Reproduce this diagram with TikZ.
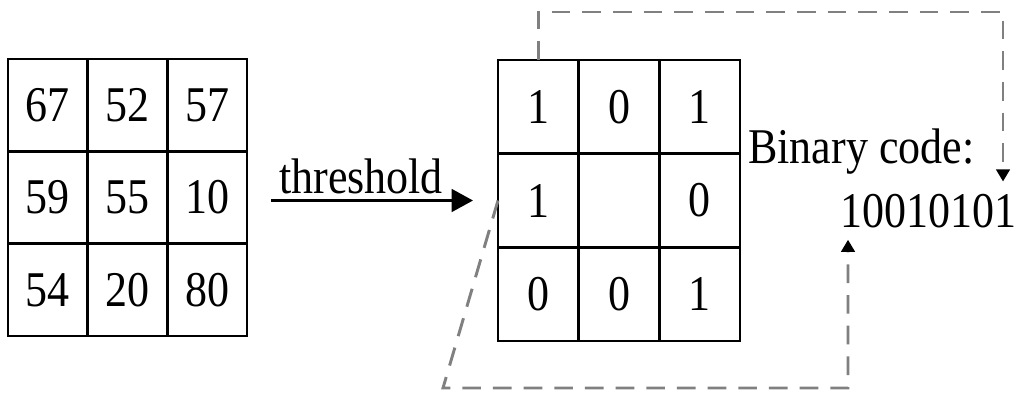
\documentclass[tikz,border=0pt]{standalone}
\usepackage{graphicx}
\usepackage{fontspec}
\setmainfont{Liberation Serif}
\usetikzlibrary{arrows.meta}
\newcommand{\sxt}[1]{\scalebox{0.88}[1]{#1}}
\begin{document}
\begin{tikzpicture}[x=0.75pt,y=-0.75pt,
  every node/.style={font=\fontsize{37.5}{45}\selectfont},
  lcell/.style={draw, line width=2pt, minimum width=59.75pt, minimum height=69.25pt, inner sep=0pt, outer sep=0pt},
  rcell/.style={draw, line width=2pt, minimum width=60.5pt, minimum height=70.25pt, inner sep=0pt, outer sep=0pt},
  dashline/.style={draw=black!50, line width=2.2pt, dash pattern=on 14pt off 9pt, -{Triangle[length=9pt,width=10pt,color=black]}},
  thrarrow/.style={line width=2pt, -{Triangle[length=16pt,width=17pt]}},
  txt/.style={inner sep=0pt}
]
\useasboundingbox (0,0) rectangle (1017,397);
% left grid
\node[lcell] (L11) at (47.83,105.17) {\sxt{67}};
\node[lcell] (L12) at (127.5,105.17) {\sxt{52}};
\node[lcell] (L13) at (207.17,105.17) {\sxt{57}};
\node[lcell] (L21) at (47.83,197.5) {\sxt{59}};
\node[lcell] (L22) at (127.5,197.5) {\sxt{55}};
\node[lcell] (L23) at (207.17,197.5) {\sxt{10}};
\node[lcell] (L31) at (47.83,289.83) {\sxt{54}};
\node[lcell] (L32) at (127.5,289.83) {\sxt{20}};
\node[lcell] (L33) at (207.17,289.83) {\sxt{80}};
% right grid
\node[rcell] (R11) at (538.33,106.83) {\sxt{1}};
\node[rcell] (R12) at (619,106.83) {\sxt{0}};
\node[rcell] (R13) at (699.67,106.83) {\sxt{1}};
\node[rcell] (R21) at (538.33,200.5) {\sxt{1}};
\node[rcell] (R22) at (619,200.5) {};
\node[rcell] (R23) at (699.67,200.5) {\sxt{0}};
\node[rcell] (R31) at (538.33,294.17) {\sxt{0}};
\node[rcell] (R32) at (619,294.17) {\sxt{0}};
\node[rcell] (R33) at (699.67,294.17) {\sxt{1}};
% labels
\node[txt, anchor=base] (thr) at (361,193) {\sxt{threshold}};
\node[txt, anchor=base west] (bin) at (748,163) {\sxt{Binary code:}};
\node[anchor=base west, inner xsep=0pt, inner ysep=9pt] (code) at (840,227) {\sxt{10010101}};
% threshold arrow
\draw[thrarrow, shorten <=18pt, shorten >=18.75pt] (L23.east |- R21.west) -- (R21.west);
% dashed connectors
\coordinate (tr) at (1003,12);
\coordinate (bl) at (443,388);
\coordinate (br) at (848,388);
\draw[dashline] (R11.north) |- (tr) -- (tr |- code.north);
\draw[dashline] (R21.west) -- (bl) -- (br) -- (br |- code.south);
\end{tikzpicture}
\end{document}
